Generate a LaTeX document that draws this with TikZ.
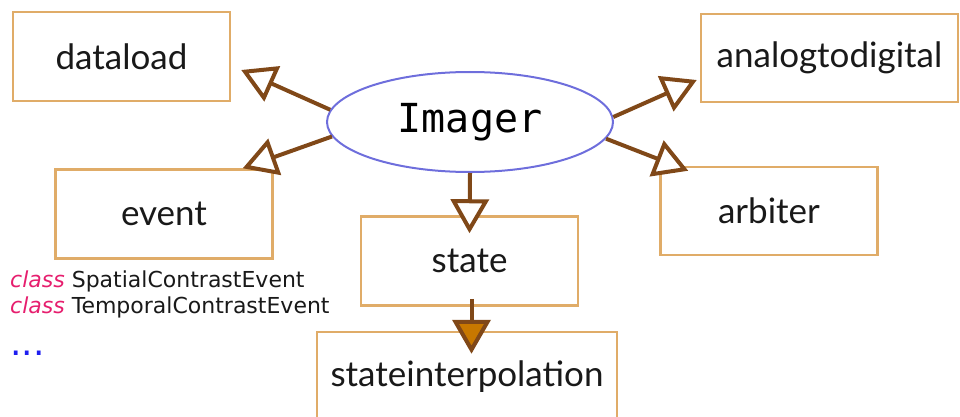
\documentclass[tikz,border=0pt]{standalone}
\usepackage{fontspec}
\setmainfont{Lato}
\setmonofont{DejaVu Sans Mono}
\newfontfamily\notefont{DejaVu Sans}
\usetikzlibrary{arrows.meta,calc,shapes.geometric}
\definecolor{linkbrown}{RGB}{128,72,24}
\definecolor{boxtan}{RGB}{224,172,104}
\definecolor{ovalblue}{RGB}{110,110,220}
\definecolor{tipfill}{RGB}{200,120,0}
\definecolor{keyword}{RGB}{230,30,110}
\definecolor{dotblue}{RGB}{30,30,240}
\begin{document}
\begin{tikzpicture}[x=1pt, y=-1pt,
  every node/.style={font=\fontsize{35}{40}\selectfont, text=black!90},
  mod/.style={draw=boxtan, line width=2.5pt, minimum width=217pt, minimum height=89pt, inner sep=0pt},
  link/.style={draw=linkbrown, line width=4pt, -{Triangle[open, length=34pt, width=38pt, fill=white]}},
  note/.style={font=\notefont\fontsize{22}{26}\selectfont, anchor=base west, inner sep=0pt}]
\clip (0,0) rectangle (960,417);
\node[ellipse, draw=ovalblue, line width=2pt, minimum width=286pt, minimum height=100pt, inner sep=0pt, text=black, font=\ttfamily\fontsize{40}{46}\selectfont] (imager) at (470,122) {Imager};
\node[mod] (dataload) at (121.5,56.5) {dataload};
\node[mod] (event) at (164,214) {event};
\node[mod] (state) at (469.5,261) {state};
\node[mod, minimum width=300pt, minimum height=90pt] (interp) at (467,377) {stateinterpolation};
\node[mod, minimum width=257pt, minimum height=88pt] (analog) at (829.5,58) {analogtodigital};
\node[mod, minimum height=88pt] (arbiter) at (769,211) {arbiter};
\node[note] (cls1) at (10,287) {\textcolor{keyword}{\itshape class} SpatialContrastEvent};
\node[note] (cls2) at (10,313) {\textcolor{keyword}{\itshape class} TemporalContrastEvent};
\node[note, text=dotblue, font=\notefont\fontsize{36}{40}\selectfont] (more) at (10,355) {...};
\draw[link] (imager.175) -- ($(dataload.east)+(10,13.5)$);
\draw[link] (imager.186) -- ($(event.north east)+(-31,0)$);
\draw[link] (imager.south) -- ($(state.north)+(0,18)$);
\draw[link] (imager.2) -- ($(analog.west)+(-3,22)$);
\draw[link] (imager.353) -- ($(arbiter.north west)+(29,5)$);
\draw[link, -{Triangle[open, length=34pt, width=38pt, fill=tipfill]}] ($(state.south)+(2,-8)$) -- ($(state.south |- interp.north)+(2,23)$);
\end{tikzpicture}
\end{document}
